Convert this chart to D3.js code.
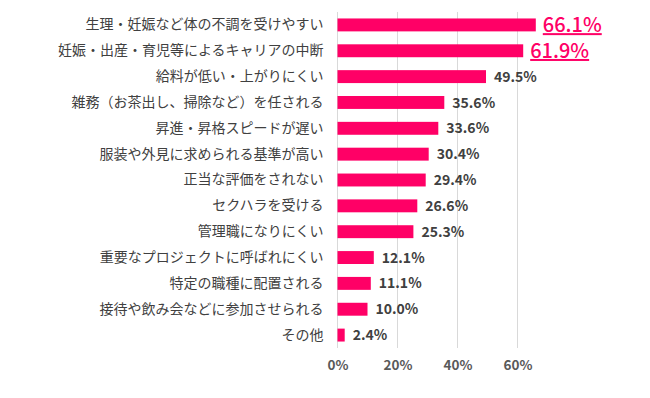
<!DOCTYPE html>
<html>
<head>
<meta charset="utf-8">
<script src="https://cdn.jsdelivr.net/npm/d3@7"></script>
<style>
  body { margin: 0; background: #fff; }
  svg { font-family: "Noto Sans CJK JP", "Noto Sans", sans-serif; }
</style>
</head>
<body>
<svg width="650" height="398"></svg>
<script>
  const categories = [
    '生理・妊娠など体の不調を受けやすい',
    '妊娠・出産・育児等によるキャリアの中断',
    '給料が低い・上がりにくい',
    '雑務（お茶出し、掃除など）を任される',
    '昇進・昇格スピードが遅い',
    '服装や外見に求められる基準が高い',
    '正当な評価をされない',
    'セクハラを受ける',
    '管理職になりにくい',
    '重要なプロジェクトに呼ばれにくい',
    '特定の職種に配置される',
    '接待や飲み会などに参加させられる',
    'その他'
  ];
  const values = [66.1, 61.9, 49.5, 35.6, 33.6, 30.4, 29.4, 26.6, 25.3, 12.1, 11.1, 10.0, 2.4];
  const highlighted = [0, 1];
  const tickValues = [0, 20, 40, 60];

  const svg = d3.select('svg');
  const margin = { top: 12, left: 337.5, bottom: 50 };
  const height = +svg.attr('height');

  const xScale = d3.scaleLinear().domain([0, 100]).range([0, 300]);

  const yScale = d3.scaleBand()
    .domain(categories)
    .range([0, height - margin.top - margin.bottom])
    .paddingInner(0.5)
    .paddingOuter(0.25);

  const g = svg.append('g')
    .attr('transform', `translate(${margin.left},${margin.top})`);

  // grid
  g.selectAll('.grid').data(tickValues)
    .enter().append('line')
    .attr('x1', d => xScale(d)).attr('x2', d => xScale(d))
    .attr('y1', 0).attr('y2', yScale.range()[1])
    .attr('stroke', '#d9d9d9').attr('stroke-width', 1);

  const xAxis = d3.axisBottom(xScale)
    .tickValues(tickValues)
    .tickFormat(d => d + '%')
    .tickSize(0)
    .tickPadding(12);

  const xAxisG = g.append('g')
    .attr('transform', `translate(0,${yScale.range()[1]})`)
    .call(xAxis);
  xAxisG.select('.domain').remove();
  xAxisG.selectAll('text')
    .attr('font-size', 13.5)
    .attr('font-weight', 700)
    .attr('fill', '#595959')
    .style('font-family', '"Noto Sans CJK JP", sans-serif');

  const yAxisG = g.append('g').call(d3.axisLeft(yScale).tickSize(0).tickPadding(14));
  yAxisG.select('.domain').remove();
  yAxisG.selectAll('text')
    .attr('font-size', 14)
    .attr('fill', '#404040')
    .style('font-family', '"Noto Sans CJK JP", sans-serif');

  g.selectAll('rect').data(values)
    .enter().append('rect')
    .attr('x', 0)
    .attr('y', (d, i) => yScale(categories[i]))
    .attr('width', d => xScale(d))
    .attr('height', yScale.bandwidth())
    .attr('fill', '#ff0066');

  g.selectAll('.value').data(values)
    .enter().append('text')
    .attr('class', 'value')
    .attr('x', (d, i) => xScale(d) + (highlighted.includes(i) ? 7 : 8))
    .attr('y', (d, i) => yScale(categories[i]) + yScale.bandwidth() / 2)
    .attr('dy', '0.36em')
    .attr('font-size', (d, i) => highlighted.includes(i) ? 20 : 14)
    .attr('font-weight', (d, i) => highlighted.includes(i) ? 500 : 700)
    .attr('fill', (d, i) => highlighted.includes(i) ? '#ff0066' : '#404040')
    .attr('text-decoration', (d, i) => highlighted.includes(i) ? 'underline' : null)
    .text(d => d.toFixed(1) + '%');
</script>
</body>
</html>
